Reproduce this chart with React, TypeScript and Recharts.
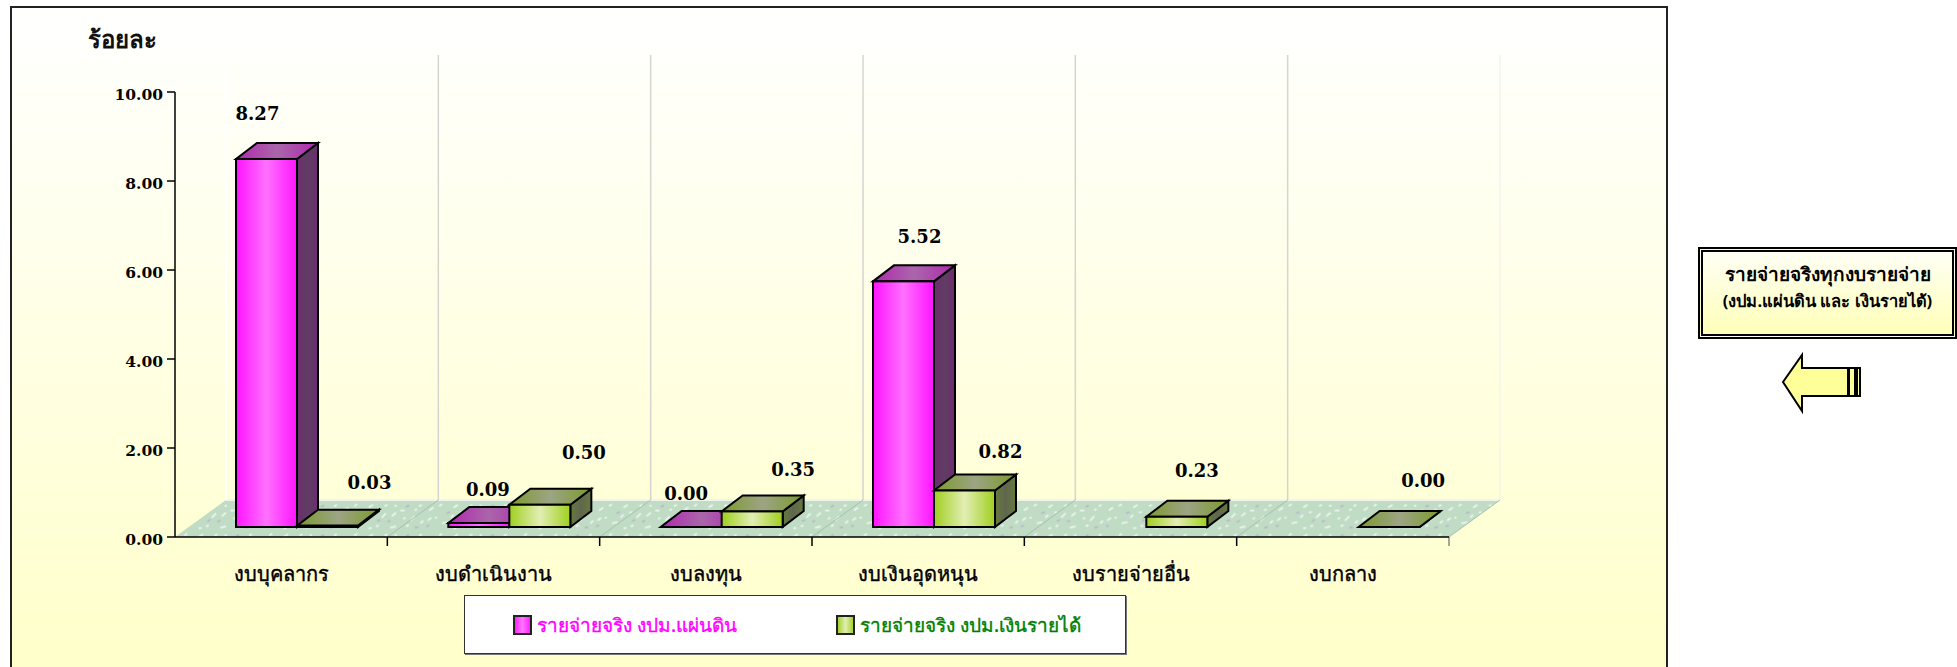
import { BarChart, Bar, XAxis, YAxis, Legend, LabelList, ReferenceArea } from 'recharts'

const categories = ['งบบุคลากร', 'งบดำเนินงาน', 'งบลงทุน', 'งบเงินอุดหนุน', 'งบรายจ่ายอื่น', 'งบกลาง']
const landBudget = [8.27, 0.09, 0.0, 5.52, null, null]
const incomeBudget = [0.03, 0.5, 0.35, 0.82, 0.23, 0.0]
const yTicks = [0, 2, 4, 6, 8, 10]
const landName = 'รายจ่ายจริง งปม.แผ่นดิน'
const incomeName = 'รายจ่ายจริง งปม.เงินรายได้'

// the source places its value labels by hand, so they get nudged per bar
const landNudge = [[7, -55], [25, -43], [11, -44], [32, -55]]
const incomeNudge = [[58, -53], [60, -62], [57, -52], [52, -49], [36, -56], [50, -57]]

const data = categories.map((name, i) => ({ name, land: landBudget[i], income: incomeBudget[i] }))

const SERIF = '"DejaVu Serif", serif'
const THAI = '"Noto Sans", "DejaVu Sans", sans-serif'

const WALL_DX = 51
const WALL_DY = 37
const BAR_DX = 16
const BAR_DY = 10
const DEPTH_X = 21
const DEPTH_Y = 16

function Box3D({ x, y, width, height, name }: any) {
  const l = x + BAR_DX
  const r = l + width
  const t = y - BAR_DY
  const b = t + height
  const id = name === landName ? 'land' : 'income'
  return (
    <g stroke='#000' strokeWidth={2} strokeLinejoin='miter'>
      <polygon points={`${r},${t} ${r + DEPTH_X},${t - DEPTH_Y} ${r + DEPTH_X},${b - DEPTH_Y} ${r},${b}`} fill={`url(#${id}Side)`} />
      <polygon points={`${l},${t} ${r},${t} ${r + DEPTH_X},${t - DEPTH_Y} ${l + DEPTH_X},${t - DEPTH_Y}`} fill={`url(#${id}Top)`} />
      <rect x={l} y={t} width={width} height={height} fill={`url(#${id}Front)`} />
    </g>
  )
}

function Room({ x, y, width, height }: any) {
  const bottom = y + height
  const step = width / categories.length
  const slots = categories.map((_, i) => i + 1)
  return (
    <g>
      <polygon
        points={`${x},${bottom} ${x + WALL_DX},${bottom - WALL_DY} ${x + width + WALL_DX},${bottom - WALL_DY} ${x + width},${bottom}`}
        fill='url(#floorSpeck)'
      />
      <line x1={x + WALL_DX} x2={x + width + WALL_DX} y1={bottom - WALL_DY} y2={bottom - WALL_DY} stroke='#f2f2ee' strokeWidth={2} />
      <line x1={x + WALL_DX} x2={x + WALL_DX} y1={y - WALL_DY} y2={bottom - WALL_DY} stroke='#ffffff' strokeWidth={2} />
      {slots.map((n) => (
        <g key={n}>
          <line
            x1={x + step * n + WALL_DX}
            x2={x + step * n + WALL_DX}
            y1={y - WALL_DY}
            y2={bottom - WALL_DY}
            stroke={n === slots.length ? '#f4f4ee' : '#d4d4d0'}
            strokeWidth={1.5}
          />
          <line x1={x + step * n} x2={x + step * n + WALL_DX} y1={bottom} y2={bottom - WALL_DY} stroke='#a9bfae' strokeWidth={1} />
          <line x1={x + step * n} x2={x + step * n} y1={bottom} y2={bottom + 9} stroke={n === slots.length ? '#888' : '#000'} strokeWidth={1.5} />
        </g>
      ))}
    </g>
  )
}

function valueLabel(nudge: number[][]) {
  return function ValueLabel({ x, y, width, value, index }: any) {
    if (value === null || value === undefined) return null
    const [dx, dy] = nudge[index]
    return (
      <text
        x={x + width / 2 + dx}
        y={y + dy}
        textAnchor='middle'
        dominantBaseline='central'
        fontFamily={SERIF}
        fontWeight='bold'
        fontSize={18}
        fill='#000'
      >
        {Number(value).toFixed(2)}
      </text>
    )
  }
}

function LegendBox({ payload }: any) {
  const look: any = {
    [landName]: { left: 48, text: '#ff00ff', swatch: 'linear-gradient(90deg,#ff22ff,#ff77ff,#ff22ff)' },
    [incomeName]: { left: 371, text: '#008000', swatch: 'linear-gradient(90deg,#a8d030,#e0eeb0,#a8d030)' },
  }
  return (
    <div style={{ position: 'relative', width: 660, height: 57, background: '#fff', border: '1px solid #333', boxShadow: '1px 1px 0 #777' }}>
      {(payload || []).map((p: any) => (
        <div key={p.value} style={{ position: 'absolute', left: look[p.value].left, top: 0, height: 57, display: 'flex', alignItems: 'center', whiteSpace: 'nowrap' }}>
          <span style={{ display: 'inline-block', boxSizing: 'border-box', width: 19, height: 20, border: '2px solid #222', background: look[p.value].swatch, marginRight: 5 }} />
          <span style={{ fontFamily: THAI, fontSize: 19, WebkitTextStroke: '0.4px', color: look[p.value].text }}>{p.value}</span>
        </div>
      ))}
    </div>
  )
}

function SideNote() {
  return (
    <>
      <div
        style={{
          position: 'absolute', left: 1698, top: 247, width: 259, height: 92, boxSizing: 'border-box',
          border: '5px double #000', outline: '1px solid #000', outlineOffset: -1,
          background: 'linear-gradient(#fffff4,#ffffb8)', textAlign: 'center', fontFamily: THAI, fontWeight: 'bold', color: '#000',
        }}
      >
        <div style={{ fontSize: 19, lineHeight: '24px', marginTop: 10 }}>รายจ่ายจริงทุกงบรายจ่าย</div>
        <div style={{ fontSize: 16.5, lineHeight: '22px', marginTop: 4, whiteSpace: 'nowrap' }}>(งปม.แผ่นดิน และ เงินรายได้)</div>
      </div>
      <svg style={{ position: 'absolute', left: 1780, top: 350 }} width={84} height={64}>
        <polygon points='3,32 22,5 22,18 68,18 68,46 22,46 22,61' fill='#ffff99' stroke='#000' strokeWidth={2} />
        <rect x={69} y={18} width={6} height={28} fill='#ffff99' stroke='#000' strokeWidth={2} />
        <rect x={77} y={18} width={3} height={28} fill='#ffff99' stroke='#000' strokeWidth={2} />
      </svg>
    </>
  )
}

function hGrad(id: string, edge: string, mid: string) {
  return (
    <linearGradient id={id} x1='0' x2='1' y1='0' y2='0'>
      <stop offset='0' stopColor={edge} />
      <stop offset='0.5' stopColor={mid} />
      <stop offset='1' stopColor={edge} />
    </linearGradient>
  )
}

export default function App() {
  return (
    <div style={{ position: 'absolute', left: 0, top: 0, width: 1957, height: 667, overflow: 'hidden', background: '#fff' }}>
      <div
        style={{
          position: 'absolute', left: 10, top: 6, width: 1658, height: 680, boxSizing: 'border-box',
          border: '2px solid #222', background: 'linear-gradient(#ffffff 0%,#ffffcc 95%)',
        }}
      />
      <div style={{ position: 'absolute', left: 88, top: 23, fontFamily: THAI, fontWeight: 'bold', fontSize: 24, color: '#111', lineHeight: '32px' }}>ร้อยละ</div>
      <div style={{ position: 'absolute', left: 0, top: 0 }}>
        <BarChart
          width={1957}
          height={667}
          data={data}
          margin={{ top: 92, left: 174, right: 508, bottom: 129 }}
          barGap={0}
          barSize={61}
          style={{ background: 'transparent' }}
        >
          <defs>
            {hGrad('landFront', '#ff14ff', '#ff70ff')}
            {hGrad('landTop', '#b028b0', '#aa66aa')}
            {hGrad('landSide', '#6e2c70', '#5e3e62')}
            {hGrad('incomeFront', '#9fcf1e', '#e2eeb4')}
            {hGrad('incomeTop', '#7c9a2c', '#9ca484')}
            {hGrad('incomeSide', '#667a3c', '#60664e')}
            <pattern id='floorSpeck' width={118} height={41} patternUnits='userSpaceOnUse' patternTransform='scale(0.72)'>
              <rect width={118} height={41} fill='#c0dcc4' />
              <g stroke='#eef6ee' strokeWidth={2.4}>
                <line x1={6} y1={12} x2={12} y2={8} />
                <line x1={24} y1={30} x2={32} y2={28} />
                <line x1={40} y1={8} x2={46} y2={4} />
                <line x1={58} y1={22} x2={64} y2={16} />
                <line x1={70} y1={36} x2={78} y2={34} />
                <line x1={84} y1={12} x2={90} y2={12} />
                <line x1={98} y1={26} x2={104} y2={20} />
                <line x1={110} y1={6} x2={114} y2={4} />
                <line x1={14} y1={22} x2={17} y2={22} />
                <line x1={50} y1={34} x2={54} y2={33} />
                <line x1={76} y1={6} x2={79} y2={5} />
                <line x1={92} y1={34} x2={96} y2={32} />
                <line x1={20} y1={6} x2={24} y2={3} />
                <line x1={36} y1={22} x2={40} y2={18} />
                <line x1={48} y1={15} x2={52} y2={14} />
                <line x1={72} y1={20} x2={78} y2={15} />
                <line x1={88} y1={24} x2={91} y2={22} />
                <line x1={4} y1={26} x2={9} y2={22} />
                <line x1={112} y1={30} x2={116} y2={26} />
                <line x1={62} y1={6} x2={66} y2={4} />
                <line x1={40} y1={37} x2={44} y2={36} />
                <line x1={104} y1={12} x2={107} y2={10} />
              </g>
              <g stroke='#bcb4cc' strokeWidth={2.4}>
                <line x1={30} y1={16} x2={35} y2={14} />
                <line x1={66} y1={28} x2={70} y2={26} />
                <line x1={104} y1={36} x2={109} y2={35} />
                <line x1={2} y1={34} x2={6} y2={33} />
                <line x1={92} y1={7} x2={96} y2={5} />
                <line x1={52} y1={27} x2={56} y2={25} />
              </g>
            </pattern>
          </defs>
          <ReferenceArea ifOverflow='visible' shape={<Room />} />
          <XAxis
            dataKey='name'
            interval={0}
            height={1}
            tickLine={false}
            axisLine={{ stroke: '#000', strokeWidth: 1.5 }}
            tickMargin={24}
            tick={{ fontFamily: THAI, fontSize: 20, fill: '#000', stroke: '#000', strokeWidth: 0.4 }}
          />
          <YAxis
            width={1}
            domain={[0, 10]}
            ticks={yTicks}
            tickSize={8}
            tickMargin={4}
            tickFormatter={(v: number) => v.toFixed(2)}
            axisLine={{ stroke: '#000', strokeWidth: 1.5 }}
            tickLine={{ stroke: '#000', strokeWidth: 1.5 }}
            tick={{ fontFamily: SERIF, fontWeight: 'bold', fontSize: 15.5, fill: '#000', dy: 2 }}
          />
          <Legend
            verticalAlign='middle'
            layout='horizontal'
            itemSorter='dataKey'
            wrapperStyle={{ left: 464, top: 595, width: 662, height: 59, bottom: 'auto', right: 'auto' }}
            content={<LegendBox />}
          />
          <Bar dataKey='land' name={landName} fill='#ff00ff' shape={<Box3D name={landName} />} isAnimationActive={false}>
            <LabelList dataKey='land' content={valueLabel(landNudge)} />
          </Bar>
          <Bar dataKey='income' name={incomeName} fill='#99cc00' shape={<Box3D name={incomeName} />} isAnimationActive={false}>
            <LabelList dataKey='income' content={valueLabel(incomeNudge)} />
          </Bar>
        </BarChart>
      </div>
      <SideNote />
    </div>
  )
}
